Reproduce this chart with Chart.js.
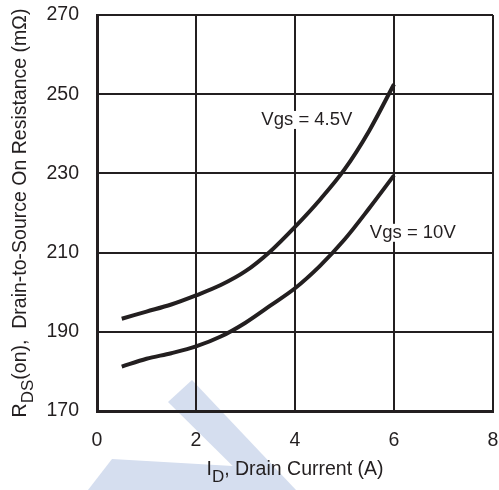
<!DOCTYPE html>
<html>
<head>
<meta charset="utf-8">
<script src="https://cdn.jsdelivr.net/npm/chart.js@4.4.1/dist/chart.umd.min.js"></script>
<style>
	body { margin: 0; background: #fff; }
	#chartRds { display: block; }
</style>
</head>
<body>
<canvas id="chartRds" width="499" height="490"></canvas>
<script>
const currents = [0.5, 1, 1.5, 2, 2.5, 3, 3.5, 4, 4.5, 5, 5.5, 6];
const rdsVgs45 = [193.3, 195.1, 196.9, 199.2, 201.8, 205.3, 210.3, 216.5, 223.3, 231.0, 240.8, 252.5];
const rdsVgs10 = [181.2, 183.2, 184.6, 186.3, 188.8, 192.3, 196.6, 201.0, 206.6, 213.3, 221.2, 229.5];
const xTicks = [0, 2, 4, 6, 8];
const yTicks = [170, 190, 210, 230, 250, 270];
const curveLabels = [
	{ text: 'Vgs = 4.5V', x: 4.24, y: 243.5 },
	{ text: 'Vgs = 10V', x: 6.38, y: 215 }
];

const ink = '#231f20';
const fontFamily = '"Liberation Sans", Arial, sans-serif';
const fontSize = 19.5;
const labelSize = 18.5;

function toPoints(xs, ys) {
	return xs.map((x, i) => ({ x: x, y: ys[i] }));
}

// subscript text pieces: [text, isSub]
function drawParts(ctx, parts, x, y) {
	const subSize = Math.round(fontSize * 0.85);
	let total = 0;
	parts.forEach(p => {
		ctx.font = (p[1] ? subSize : fontSize) + 'px ' + fontFamily;
		total += ctx.measureText(p[0]).width;
	});
	let cx = x - total / 2;
	parts.forEach(p => {
		ctx.font = (p[1] ? subSize : fontSize) + 'px ' + fontFamily;
		ctx.fillText(p[0], cx, y + (p[1] ? 7 : 0));
		cx += ctx.measureText(p[0]).width;
	});
}

const decorPlugin = {
	id: 'decor',
	beforeDraw: (chart) => {
		const {ctx} = chart;
		ctx.save();
		ctx.fillStyle = '#fff';
		ctx.fillRect(0, 0, chart.width, chart.height);
		// faint watermark
		ctx.fillStyle = '#d5deef';
		ctx.beginPath();
		ctx.moveTo(168, 402); ctx.lineTo(192, 380); ctx.lineTo(296, 490); ctx.lineTo(257, 490);
		ctx.closePath();
		ctx.fill();
		ctx.beginPath();
		ctx.moveTo(112, 459); ctx.lineTo(250, 467); ctx.lineTo(270, 490); ctx.lineTo(88, 490);
		ctx.closePath();
		ctx.fill();
		ctx.restore();
	},
	afterDraw: (chart) => {
		const {ctx, chartArea} = chart;
		const xs = chart.scales.x, ys = chart.scales.y;
		ctx.save();
		ctx.fillStyle = ink;
		ctx.textBaseline = 'middle';
		ctx.textAlign = 'left';
		// curve labels with white box
		ctx.font = labelSize + 'px ' + fontFamily;
		curveLabels.forEach(l => {
			const px = xs.getPixelForValue(l.x);
			const py = ys.getPixelForValue(l.y);
			const w = ctx.measureText(l.text).width;
			ctx.fillStyle = '#fff';
			ctx.fillRect(px - w / 2 - 1, py - 9, w + 2, 18);
			ctx.fillStyle = ink;
			ctx.fillText(l.text, px - w / 2, py);
		});
		// x title
		drawParts(ctx, [['I', false], ['D', true], [', Drain Current (A)', false]],
			(chartArea.left + chartArea.right) / 2, 470);
		// y title
		ctx.translate(21, (chartArea.top + chartArea.bottom) / 2);
		ctx.rotate(-Math.PI / 2);
		drawParts(ctx, [['R', false], ['DS', true], ['(on),  Drain-to-Source On Resistance (m\u03a9)', false]], 0, 0);
		ctx.restore();
	}
};

const axisCommon = {
	type: 'linear',
	grid: { color: ink, lineWidth: 2, drawTicks: false },
	border: { color: ink, width: 3 },
	ticks: {
		color: ink,
		font: { family: fontFamily, size: fontSize }
	}
};

new Chart(document.getElementById('chartRds').getContext('2d'), {
	type: 'scatter',
	data: {
		datasets: [
			{
				label: 'Vgs = 4.5V',
				data: toPoints(currents, rdsVgs45),
				showLine: true,
				borderColor: ink,
				borderWidth: 4,
				pointRadius: 0,
				cubicInterpolationMode: 'monotone'
			},
			{
				label: 'Vgs = 10V',
				data: toPoints(currents, rdsVgs10),
				showLine: true,
				borderColor: ink,
				borderWidth: 4,
				pointRadius: 0,
				cubicInterpolationMode: 'monotone'
			}
		]
	},
	options: {
		responsive: false,
		animation: false,
		layout: { padding: { top: 15, right: 6, left: 0, bottom: 0 } },
		plugins: {
			legend: { display: false },
			tooltip: { enabled: false }
		},
		scales: {
			x: {
				...axisCommon,
				min: xTicks[0],
				max: xTicks[xTicks.length - 1],
				afterBuildTicks: (s) => { s.ticks = xTicks.map(v => ({ value: v })); },
				afterFit: (s) => { s.height = 79; s.paddingLeft = 0; s.paddingRight = 0; },
				ticks: { ...axisCommon.ticks, padding: 18 }
			},
			y: {
				...axisCommon,
				min: yTicks[0],
				max: yTicks[yTicks.length - 1],
				afterBuildTicks: (s) => { s.ticks = yTicks.map(v => ({ value: v })); },
				afterFit: (s) => { s.width = 97; s.paddingTop = 0; s.paddingBottom = 0; },
				ticks: { ...axisCommon.ticks, padding: 18 }
			}
		}
	},
	plugins: [decorPlugin]
});
</script>
</body>
</html>
